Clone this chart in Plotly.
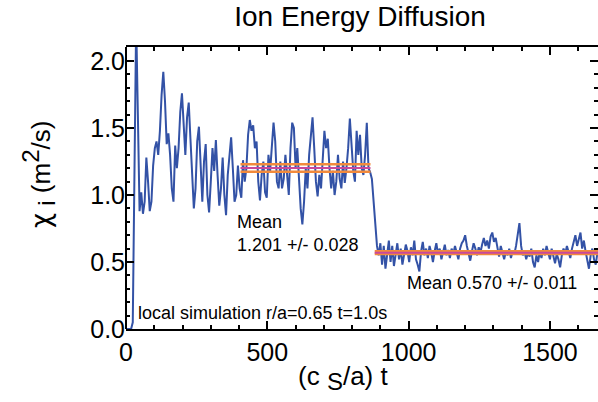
import plotly.graph_objects as go

# time grid: start and step of the sampled series (c_s/a units)
t_start = 0
t_step = 6
chi_i = [
    0.0, 0.0, 0.0, 0.0, 0.05, 1.2, 2.3, 1.6, 0.88, 1.02,
    0.86, 0.95, 1.28, 1.10, 0.88, 0.95, 1.22, 1.35, 1.40, 1.30,
    1.48, 1.75, 1.92, 1.70, 1.38, 1.46, 1.30, 1.05, 0.95, 1.37,
    1.20, 1.35, 1.62, 1.76, 1.52, 1.30, 1.58, 1.69, 1.42, 1.10,
    0.90, 1.05, 1.40, 1.51, 1.20, 0.95, 1.25, 1.38, 1.00, 0.87,
    1.10, 1.35, 1.18, 1.41, 1.15, 0.92, 1.05, 1.28, 1.00, 0.85,
    1.15, 1.30, 1.43, 1.20, 0.95, 1.00, 1.22, 1.05, 0.98, 1.26,
    1.10, 1.20, 1.45, 1.56, 1.48, 1.52, 1.35, 1.40, 1.10, 0.96,
    1.15, 1.25, 1.02, 0.98, 1.30, 1.18, 1.35, 1.54, 1.40, 1.10,
    1.05, 1.25, 1.05, 1.12, 1.30, 1.15, 1.00, 1.35, 1.54, 1.50,
    1.20, 1.35, 1.10, 0.90, 0.78, 0.95, 1.20, 1.05, 1.30, 1.45,
    1.58, 1.35, 1.10, 0.99, 1.15, 1.05, 1.25, 1.48, 1.35, 1.42,
    1.20, 1.05, 1.18, 1.00, 1.10, 1.30, 1.12, 1.05, 1.25, 1.09,
    1.20, 1.35, 1.57, 1.40, 1.18, 1.10, 1.48, 1.30, 1.45, 1.20,
    1.15, 1.30, 1.54, 1.20, 1.17, 1.12, 0.95, 0.75, 0.62, 0.55,
    0.64, 0.48, 0.62, 0.45, 0.58, 0.66, 0.50, 0.62, 0.47, 0.56,
    0.64, 0.52, 0.60, 0.48, 0.55, 0.63, 0.58, 0.50, 0.61, 0.55,
    0.66, 0.52, 0.48, 0.43, 0.58, 0.65, 0.55, 0.60, 0.53, 0.62,
    0.57, 0.50, 0.58, 0.64, 0.56, 0.60, 0.52, 0.58, 0.63, 0.55,
    0.59, 0.53, 0.60, 0.56, 0.62, 0.57, 0.52, 0.60, 0.64, 0.66,
    0.70, 0.62, 0.55, 0.51, 0.58, 0.64, 0.60, 0.55, 0.61, 0.57,
    0.63, 0.68, 0.62, 0.66, 0.60, 0.69, 0.72, 0.65, 0.68, 0.60,
    0.54, 0.62, 0.57, 0.52, 0.58, 0.55, 0.60, 0.53, 0.58, 0.56,
    0.62, 0.70, 0.79, 0.62, 0.55, 0.58, 0.52, 0.57, 0.54, 0.60,
    0.50, 0.46, 0.55, 0.50, 0.58, 0.53, 0.60, 0.55, 0.62, 0.57,
    0.52, 0.60, 0.55, 0.49, 0.56, 0.52, 0.46, 0.55, 0.60, 0.56,
    0.62, 0.58, 0.53, 0.60, 0.66, 0.70, 0.62, 0.68, 0.72, 0.60,
    0.66, 0.58, 0.50, 0.45, 0.55, 0.60, 0.52, 0.48, 0.57,
]

# averaging windows and results
win1 = [405, 865]
mean1, err1 = 1.201, 0.028
win2 = [880, 1700]
mean2, err2 = 0.570, 0.011

x_range = [0, 1670]
y_range = [0, 2.105]

BLUE = "#3352A6"
ORANGE = "#F28A3C"
MAGENTA = "#C8489C"
FONT = "Liberation Sans, Arial, sans-serif"

fig = go.Figure()
fig.add_trace(go.Scatter(x0=t_start, dx=t_step, y=chi_i, mode="lines",
                         line=dict(color=BLUE, width=2), showlegend=False))

for win, m, e in [(win1, mean1, err1), (win2, mean2, err2)]:
    for val, col, w in [(m + e, ORANGE, 2.5), (m - e, ORANGE, 2.5), (m, MAGENTA, 2)]:
        fig.add_trace(go.Scatter(x=win, y=[val, val], mode="lines",
                                 line=dict(color=col, width=w), showlegend=False))

# empty trace so the mirror (top/right) axes get drawn
fig.add_trace(go.Scatter(x=[None], y=[None], xaxis="x2", yaxis="y2",
                         showlegend=False, hoverinfo="skip"))

L, R, T, B = 126, 598, 47, 329
W, H = 598, 402


def px(x):
    return (x - L) / (R - L)


def py(y):
    return (B - y) / (B - T)


ann = [
    dict(text="Mean<br>1.201 +/- 0.028", x=px(235), y=py(210), xanchor="left",
         yanchor="top", align="left", font=dict(size=18)),
    dict(text="Mean 0.570 +/- 0.011", x=px(405), y=py(271), xanchor="left",
         yanchor="top", align="left", font=dict(size=18)),
    dict(text="local simulation r/a=0.65 t=1.0s", x=px(136), y=py(301), xanchor="left",
         yanchor="top", align="left", font=dict(size=18)),
    dict(text="(c <sub><span style='font-size:24px'>S</span></sub>/a) t", x=px(343), y=py(378),
         xanchor="center", yanchor="middle", font=dict(size=26)),
    dict(text="<span style='font-family:DejaVu Sans'>χ</span> <sub><span style='font-size:24px'>i</span></sub> (m<sup><span style='font-size:24px'>2</span></sup>/s)",
         x=px(38), y=py(175), xanchor="center",
         yanchor="middle", textangle=-90, font=dict(size=26)),
]
for a in ann:
    a.update(xref="paper", yref="paper", showarrow=False)
    a["font"].update(family=FONT, color="black")

axis_common = dict(
    ticks="inside", ticklen=8, tickwidth=2, tickcolor="black",
    showgrid=False, zeroline=False,
    tickfont=dict(family=FONT, size=25, color="black"),
)
xminor = dict(dtick=100, ticklen=4, tickwidth=1.5, tickcolor="black", ticks="inside")
yminor = dict(dtick=0.1, ticklen=4, tickwidth=1.5, tickcolor="black", ticks="inside")

fig.update_layout(
    width=W, height=H,
    margin=dict(l=L, r=W - R, t=T, b=H - B),
    paper_bgcolor="white", plot_bgcolor="white",
    title=dict(text="Ion Energy Diffusion", x=360 / W, xanchor="center",
               y=1 - 16 / H, yanchor="middle",
               font=dict(family=FONT, size=28, color="black")),
    annotations=ann,
    shapes=[dict(type="line", xref="paper", yref="paper", x0=0, x1=0, y0=0, y1=1,
                 line=dict(color="black", width=2))],
    xaxis=dict(range=x_range, dtick=500, tick0=0, showline=True, linecolor="black",
               linewidth=2, minor=xminor, **axis_common),
    yaxis=dict(range=y_range, dtick=0.5, tick0=0, tickformat=".1f", showline=False,
               minor=yminor, **axis_common),
    xaxis2=dict(range=x_range, dtick=500, tick0=0, overlaying="x", side="top",
                anchor="y", showline=True, linecolor="black", linewidth=2,
                showticklabels=False, minor=xminor, **axis_common),
    yaxis2=dict(range=y_range, dtick=0.5, tick0=0, overlaying="y", side="right",
                anchor="x", showline=False, showticklabels=False,
                minor=yminor, **axis_common),
)

fig.write_html("out.html")
